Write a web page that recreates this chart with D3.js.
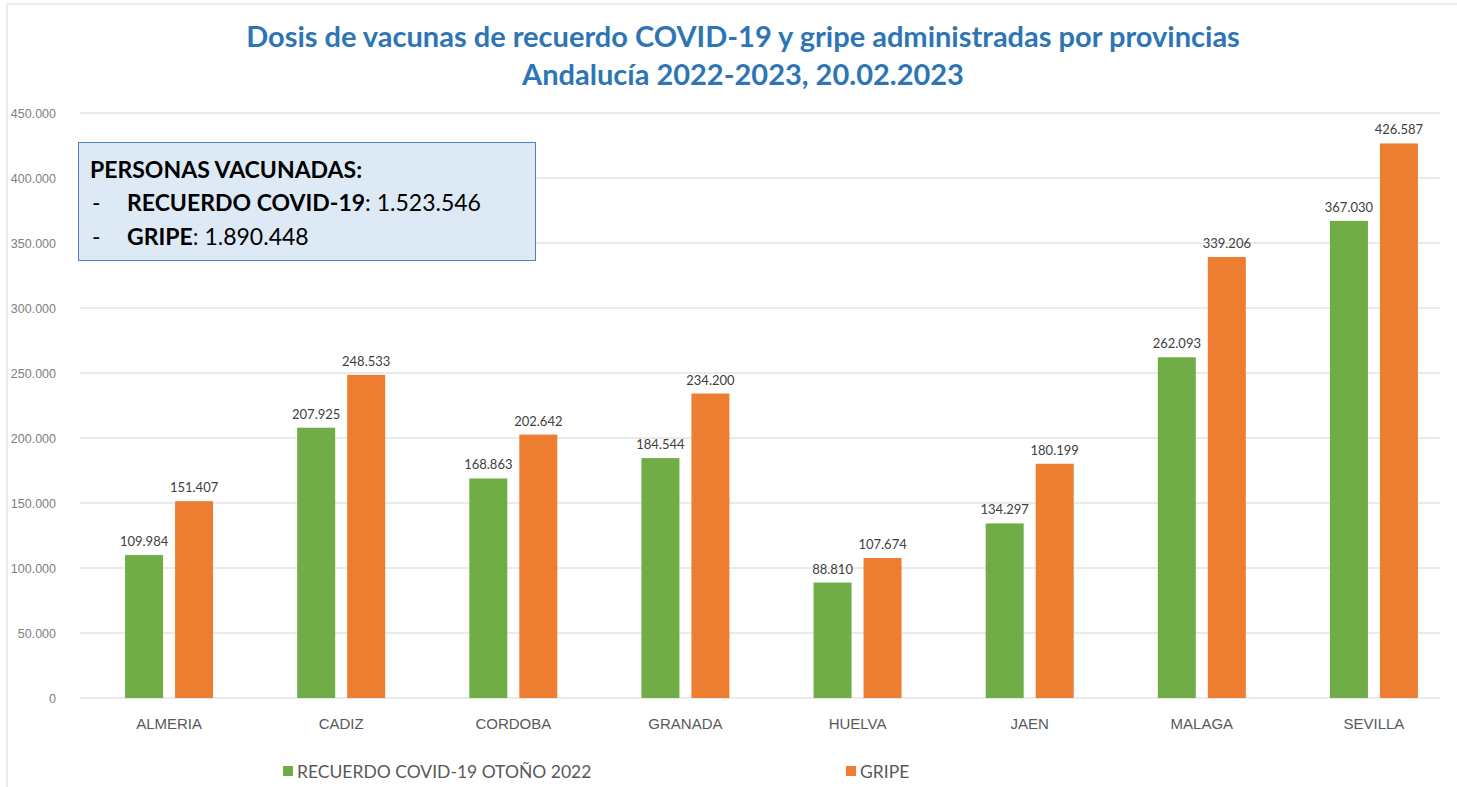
<!DOCTYPE html>
<html>
<head>
<meta charset="utf-8">
<script src="https://cdn.jsdelivr.net/npm/d3@7"></script>
<style>
  body { margin: 0; background: #fff; }
  svg { display: block; font-family: Lato, "Open Sans", sans-serif; }
</style>
</head>
<body>
<div id="chart"></div>
<script>
const provincias = ["ALMERIA", "CADIZ", "CORDOBA", "GRANADA", "HUELVA", "JAEN", "MALAGA", "SEVILLA"];
const covid = [109984, 207925, 168863, 184544, 88810, 134297, 262093, 367030];
const gripe = [151407, 248533, 202642, 234200, 107674, 180199, 339206, 426587];
const series = ["RECUERDO COVID-19 OTOÑO 2022", "GRIPE"];
const yTicks = [0, 50000, 100000, 150000, 200000, 250000, 300000, 350000, 400000, 450000];

const W = 1457, H = 787;
const margin = {top: 113, right: -3, bottom: 89, left: 83};
const width = W - margin.left - margin.right;
const height = H - margin.top - margin.bottom;

const colors = ["#70ad47", "#ed7d31"];
const fmt = v => d3.format(",")(v).replace(/,/g, ".");

const svg = d3.select("#chart").append("svg")
  .attr("width", W).attr("height", H);

// outer frame
svg.append("path")
  .attr("d", "M7,787 V4 H1457")
  .attr("fill", "none").attr("stroke", "#d9d9d9").attr("stroke-width", 1);

// title
svg.append("text").attr("x", 743).attr("y", 47)
  .attr("text-anchor", "middle").attr("fill", "#2e75b6")
  .style("font-size", "29px").style("font-weight", "bold")
  .text("Dosis de vacunas de recuerdo COVID-19 y gripe administradas por provincias");
svg.append("text").attr("x", 743).attr("y", 85)
  .attr("text-anchor", "middle").attr("fill", "#2e75b6")
  .style("font-size", "29px").style("font-weight", "bold")
  .text("Andalucía 2022-2023, 20.02.2023");

const g = svg.append("g").attr("transform", "translate(" + margin.left + "," + margin.top + ")");

const x = d3.scaleBand().domain(provincias).range([0, width]);
const x1 = d3.scaleBand().domain([0, 1]).range([-44, 44]).paddingInner(0.24);
const y = d3.scaleLinear().domain([0, 450000]).range([height, 0]);

// grid
g.append("g").selectAll("line").data(yTicks).enter().append("line")
  .attr("x1", -3).attr("x2", 1357)
  .attr("y1", d => y(d)).attr("y2", d => y(d))
  .attr("stroke", "#e3e3e3").attr("stroke-width", 1.5);

// y axis
const yAxis = g.append("g").attr("transform", "translate(-24,0)")
  .call(d3.axisLeft(y).tickValues(yTicks).tickSize(0).tickFormat(d => fmt(d)));
yAxis.select(".domain").remove();
yAxis.selectAll("text").attr("fill", "#7f7f7f").style("font-size", "12.5px")
  .style("font-family", "'Liberation Sans', sans-serif");

// x axis
const xAxis = g.append("g").attr("transform", "translate(0," + height + ")")
  .call(d3.axisBottom(x).tickSize(0).tickPadding(20));
xAxis.select(".domain").remove();
xAxis.selectAll("text").attr("fill", "#595959").style("font-size", "15px");

// bars
const groups = g.selectAll(".grp").data(provincias).enter().append("g")
  .attr("transform", d => "translate(" + (x(d) + x.bandwidth() / 2) + ",0)");

[covid, gripe].forEach((vals, s) => {
  groups.append("rect")
    .attr("x", x1(s))
    .attr("y", (d, i) => y(vals[i]))
    .attr("width", x1.bandwidth())
    .attr("height", (d, i) => height - y(vals[i]))
    .attr("fill", colors[s]);
  groups.append("text")
    .attr("x", x1(s) + x1.bandwidth() / 2)
    .attr("y", (d, i) => y(vals[i]) - 9)
    .attr("text-anchor", "middle")
    .attr("fill", "#404040")
    .style("font-size", "13px")
    .text((d, i) => fmt(vals[i]));
});

// annotation box
const box = svg.append("g");
box.append("rect").attr("x", 78.5).attr("y", 142.5).attr("width", 457).attr("height", 118)
  .attr("fill", "#dee9f6").attr("stroke", "#4f7fc6").attr("stroke-width", 1);
box.append("text").attr("x", 90).attr("y", 178)
  .attr("fill", "#000").style("font-size", "23px").style("font-weight", "bold")
  .text("PERSONAS VACUNADAS:");
const lines = [["RECUERDO COVID-19", ": 1.523.546"], ["GRIPE", ": 1.890.448"]];
lines.forEach((l, i) => {
  const yy = 211 + i * 34;
  box.append("text").attr("x", 92).attr("y", yy).style("font-size", "23px").text("-");
  const t = box.append("text").attr("x", 127).attr("y", yy).style("font-size", "23px").attr("fill", "#000");
  t.append("tspan").style("font-weight", "bold").text(l[0]);
  t.append("tspan").text(l[1]);
});

// legend
const leg = svg.append("g").attr("transform", "translate(283,772)");
const legX = [0, 563];
series.forEach((s, i) => {
  leg.append("rect").attr("x", legX[i]).attr("y", -6).attr("width", 10).attr("height", 10).attr("fill", colors[i]);
  leg.append("text").attr("x", legX[i] + 14).attr("y", 0).attr("dy", "0.35em")
    .attr("fill", "#595959").style("font-size", "17.5px").text(s);
});
</script>
</body>
</html>
